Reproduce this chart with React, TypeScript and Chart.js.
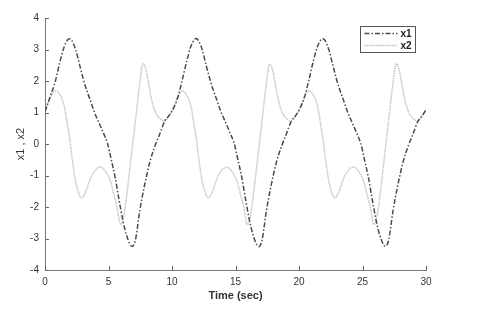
import React, { useEffect, useRef } from "react";
import { Chart, registerables } from "chart.js";

Chart.register(...registerables);

// ---- data ----
const x1Time = [
  0, 0.4,
  0.82, 1.17, 1.52, 1.77, 1.92, 2.12, 2.42, 2.72, 3.02, 3.27, 3.54, 3.87, 4.32, 4.62, 4.92, 5.22, 5.52, 5.82, 6.12, 6.42, 6.87, 7.12, 7.47, 7.82, 8.27, 8.67, 9.02, 9.42, 9.82, 10.12, 10.47,
  10.79, 11.14, 11.49, 11.74, 11.89, 12.09, 12.39, 12.69, 12.99, 13.24, 13.51, 13.84, 14.29, 14.59, 14.89, 15.19, 15.49, 15.79, 16.09, 16.39, 16.84, 17.09, 17.44, 17.79, 18.24, 18.64, 18.99, 19.39, 19.79, 20.09, 20.44,
  20.76, 21.11, 21.46, 21.71, 21.86, 22.06, 22.36, 22.66, 22.96, 23.21, 23.48, 23.81, 24.26, 24.56, 24.86, 25.16, 25.46, 25.76, 26.06, 26.36, 26.81, 27.06, 27.41, 27.76, 28.21, 28.61, 28.96, 29.36, 29.76, 30,
];
const x1Values = [
  1.03, 1.5,
  2.0, 2.6, 3.1, 3.3, 3.34, 3.28, 2.98, 2.52, 2.05, 1.72, 1.42, 1.03, 0.61, 0.33, 0.02, -0.5, -1.05, -1.75, -2.4, -2.9, -3.25, -3.05, -2.1, -1.35, -0.55, -0.05, 0.3, 0.72, 0.93, 1.14, 1.5,
  2.0, 2.6, 3.1, 3.3, 3.35, 3.28, 2.98, 2.5, 2.05, 1.72, 1.42, 1.04, 0.62, 0.33, 0.03, -0.5, -1.05, -1.75, -2.4, -2.9, -3.26, -3.05, -2.1, -1.35, -0.55, -0.06, 0.3, 0.72, 0.93, 1.14, 1.5,
  2.0, 2.6, 3.1, 3.3, 3.34, 3.28, 2.98, 2.51, 2.05, 1.72, 1.42, 1.03, 0.61, 0.33, 0.02, -0.5, -1.05, -1.75, -2.4, -2.9, -3.25, -3.05, -2.1, -1.35, -0.55, -0.05, 0.3, 0.72, 0.93, 1.09,
];
const x2Time = [
  0, 0.4,
  0.82, 1.07, 1.32, 1.57, 1.77, 1.97, 2.12, 2.37, 2.62, 2.89, 3.22, 3.54, 3.92, 4.34, 4.72, 5.12, 5.42, 5.67, 5.96, 6.22, 6.52, 6.82, 7.12, 7.42, 7.72, 7.92, 8.12, 8.37, 8.67, 9.02, 9.42, 9.82, 10.12, 10.47,
  10.79, 11.04, 11.29, 11.54, 11.74, 11.94, 12.09, 12.34, 12.59, 12.86, 13.19, 13.51, 13.89, 14.31, 14.69, 15.09, 15.39, 15.64, 15.93, 16.19, 16.49, 16.79, 17.09, 17.39, 17.69, 17.89, 18.09, 18.34, 18.64, 18.99, 19.39, 19.79, 20.09, 20.44,
  20.76, 21.01, 21.26, 21.51, 21.71, 21.91, 22.06, 22.31, 22.56, 22.83, 23.16, 23.48, 23.86, 24.28, 24.66, 25.06, 25.36, 25.61, 25.9, 26.16, 26.46, 26.76, 27.06, 27.36, 27.66, 27.86, 28.06, 28.31, 28.61, 28.96, 29.36, 29.76, 30,
];
const x2Values = [
  1.03, 1.45,
  1.69, 1.62, 1.45, 1.1, 0.6, 0.1, -0.4, -1.1, -1.52, -1.71, -1.5, -1.13, -0.85, -0.73, -0.85, -1.15, -1.6, -2.0, -2.56, -2.25, -1.35, -0.3, 0.75, 1.8, 2.55, 2.4, 2.0, 1.45, 1.03, 0.82, 0.73, 0.93, 1.14, 1.5,
  1.69, 1.62, 1.45, 1.1, 0.6, 0.1, -0.4, -1.1, -1.52, -1.71, -1.5, -1.13, -0.85, -0.74, -0.85, -1.15, -1.6, -2.0, -2.56, -2.25, -1.35, -0.3, 0.75, 1.8, 2.54, 2.4, 2.0, 1.45, 1.03, 0.82, 0.73, 0.93, 1.14, 1.5,
  1.69, 1.62, 1.45, 1.1, 0.6, 0.1, -0.4, -1.1, -1.52, -1.71, -1.5, -1.13, -0.85, -0.73, -0.85, -1.15, -1.6, -2.0, -2.56, -2.25, -1.35, -0.3, 0.75, 1.8, 2.55, 2.4, 2.0, 1.45, 1.03, 0.82, 0.73, 0.93, 1.09,
];
const seriesLabels = ["x1", "x2"];
const xTickValues = [0, 5, 10, 15, 20, 25, 30];
const yTickValues = [-4, -3, -2, -1, 0, 1, 2, 3, 4];
const xAxisTitle = "Time (sec)";
const yAxisTitle = "x1 , x2";

const FONT = "'Liberation Sans', Arial, Helvetica, sans-serif";
const X1_COLOR = "#4a4a4a";
const X2_COLOR = "#c4c4c4";
const X1_DASH = [5, 2, 1.5, 2];
const X2_DASH = [1.5, 0.8];

function zip(t: number[], v: number[]) {
  const n = Math.min(t.length, v.length);
  const out: { x: number; y: number }[] = [];
  for (let i = 0; i < n; i++) out.push({ x: t[i], y: v[i] });
  return out;
}

const decorPlugin = {
  id: "decor",
  afterDatasetsDraw(chart: any) {
    const { ctx, chartArea, scales } = chart;
    const xs = scales.x;
    const ys = scales.y;
    ctx.save();
    // inward tick marks
    ctx.strokeStyle = "#666";
    ctx.lineWidth = 1;
    ctx.beginPath();
    for (const v of xTickValues) {
      const px = Math.round(xs.getPixelForValue(v)) + 0.5;
      ctx.moveTo(px, chartArea.bottom);
      ctx.lineTo(px, chartArea.bottom - 4);
    }
    for (const v of yTickValues) {
      const py = Math.round(ys.getPixelForValue(v)) + 0.5;
      ctx.moveTo(chartArea.left, py);
      ctx.lineTo(chartArea.left + 4, py);
    }
    ctx.stroke();

    // legend box
    const bx = 360.5, by = 26.5, bw = 55, bh = 26;
    ctx.fillStyle = "#fff";
    ctx.fillRect(bx, by, bw, bh);
    ctx.strokeStyle = "#555";
    ctx.lineWidth = 1;
    ctx.strokeRect(bx, by, bw, bh);
    const rows = [
      { y: by + 7, color: X1_COLOR, dash: X1_DASH, label: seriesLabels[0] },
      { y: by + 19, color: X2_COLOR, dash: X2_DASH, label: seriesLabels[1] },
    ];
    for (const r of rows) {
      ctx.beginPath();
      ctx.setLineDash(r.dash);
      ctx.strokeStyle = r.color;
      ctx.lineWidth = 1.5;
      ctx.moveTo(bx + 4, r.y);
      ctx.lineTo(bx + 37, r.y);
      ctx.stroke();
      ctx.setLineDash([]);
      ctx.fillStyle = "#222";
      ctx.font = `bold 10px ${FONT}`;
      ctx.textBaseline = "middle";
      ctx.textAlign = "left";
      ctx.fillText(r.label, bx + 40, r.y + 0.5);
    }
    ctx.restore();
  },
};

export default function App() {
  const ref = useRef<HTMLCanvasElement | null>(null);
  useEffect(() => {
    if (!ref.current) return;
    const chart = new Chart(ref.current, {
      type: "line",
      data: {
        datasets: [
          {
            label: seriesLabels[0],
            data: zip(x1Time, x1Values),
            borderColor: X1_COLOR,
            borderWidth: 1.5,
            borderDash: X1_DASH,
            pointRadius: 0,
            fill: false,
            cubicInterpolationMode: "monotone",
          },
          {
            label: seriesLabels[1],
            data: zip(x2Time, x2Values),
            borderColor: X2_COLOR,
            borderWidth: 1.5,
            borderDash: X2_DASH,
            pointRadius: 0,
            fill: false,
            cubicInterpolationMode: "monotone",
          },
        ],
      },
      options: {
        animation: false,
        responsive: false,
        maintainAspectRatio: false,
        layout: { padding: { left: 0, right: 54, top: 18, bottom: 0 } },
        plugins: { legend: { display: false }, tooltip: { enabled: false } },
        scales: {
          x: {
            type: "linear",
            min: 0,
            max: 30,
            afterBuildTicks: (s: any) => {
              s.ticks = xTickValues.map((v) => ({ value: v }));
            },
            ticks: { color: "#333", font: { size: 10, family: FONT }, padding: 6, maxRotation: 0 },
            grid: { display: true, drawOnChartArea: false, drawTicks: false },
            border: { display: true, color: "#777", width: 1 },
            title: {
              display: true,
              text: xAxisTitle,
              color: "#333",
              font: { size: 11, weight: "bold", family: FONT },
              padding: { top: 0, bottom: 17 },
            },
            afterFit: (s: any) => {
              s.height = 50;
            },
          },
          y: {
            type: "linear",
            min: -4,
            max: 4,
            afterBuildTicks: (s: any) => {
              s.ticks = yTickValues.map((v) => ({ value: v }));
            },
            ticks: { color: "#333", font: { size: 10, family: FONT }, padding: 6 },
            grid: { display: true, drawOnChartArea: false, drawTicks: false },
            border: { display: true, color: "#777", width: 1 },
            title: {
              display: true,
              text: yAxisTitle,
              color: "#333",
              font: { size: 11, family: FONT },
              padding: { top: 14, bottom: 0 },
            },
            afterFit: (s: any) => {
              s.width = 45;
            },
          },
        },
      },
      plugins: [decorPlugin],
    } as any);
    return () => chart.destroy();
  }, []);
  return (
    <div style={{ position: "fixed", left: 0, top: 0, width: 480, height: 320, background: "#fff" }}>
      <canvas ref={ref} width={480} height={320} style={{ width: 480, height: 320, display: "block" }} />
    </div>
  );
}
